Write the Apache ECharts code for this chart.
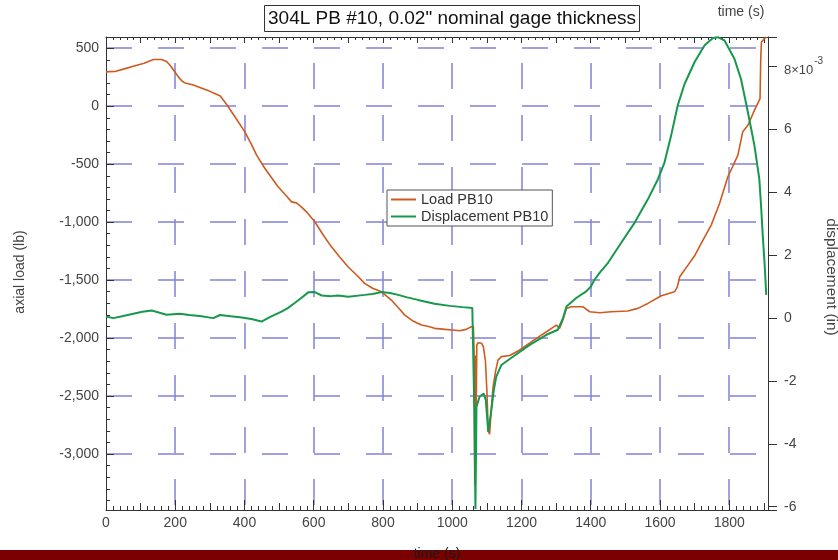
<!DOCTYPE html>
<html>
<head>
<meta charset="utf-8">
<script src="https://cdn.jsdelivr.net/npm/echarts@6/dist/echarts.min.js"></script>
<style>
  html, body { margin: 0; padding: 0; background: #ffffff; }
  #chart { width: 838px; height: 560px; }
</style>
</head>
<body>
<div id="chart"></div>
<script>
// Load cell channel, PB10: time (s) and axial load (lb)
const loadTime = [0, 10, 26, 50, 79, 110, 137, 160, 175, 185, 198, 209, 220, 228, 250, 271, 300, 319, 330, 348,
  370, 401, 420, 435, 459, 473, 497, 520, 536, 550, 565, 579, 603, 625, 651, 675, 699, 725, 747, 770,
  796, 824, 845, 863, 885, 911, 935, 949, 980, 1000, 1022, 1040, 1055, 1061, 1063, 1065, 1067, 1069, 1071, 1075,
  1080, 1085, 1090, 1096, 1100, 1104, 1108, 1113, 1118, 1125, 1132, 1142, 1166, 1195, 1220, 1243, 1270, 1290, 1301, 1310,
  1320, 1330, 1344, 1378, 1397, 1426, 1459, 1507, 1536, 1565, 1604, 1642, 1650, 1657, 1681, 1700, 1719, 1748, 1772, 1796,
  1810, 1825, 1839, 1854, 1873, 1889, 1891, 1893, 1902, 1907];
const loadLb = [296, 298, 300, 320, 345, 370, 403, 403, 385, 353, 300, 253, 215, 201, 185, 161, 128, 103, 88, 17,
  -80, -221, -330, -422, -537, -595, -695, -770, -825, -834, -870, -911, -997, -1100, -1213, -1300, -1385, -1460, -1528, -1570,
  -1601, -1672, -1740, -1802, -1850, -1888, -1902, -1916, -1925, -1930, -1937, -1925, -1902, -1900, -2103, -3267, -2150, -2700, -2060, -2040,
  -2035, -2045, -2075, -2200, -2450, -2800, -2830, -2600, -2420, -2290, -2190, -2160, -2150, -2103, -2050, -2003, -1950, -1910, -1888, -1916,
  -1840, -1744, -1730, -1730, -1773, -1782, -1773, -1767, -1744, -1701, -1635, -1601, -1560, -1471, -1371, -1290, -1184, -1026, -839, -609,
  -520, -422, -221, -164, -34, 66, 400, 554, 583, 597];

// Displacement channel, PB10: time (s) and displacement (10^-3 in)
const dispTime = [0, 21, 50, 79, 105, 132, 155, 175, 214, 240, 271, 310, 329, 360, 387, 420, 449, 473, 490, 507,
  525, 545, 565, 584, 603, 623, 650, 670, 700, 747, 770, 796, 820, 844, 870, 901, 949, 993, 1030, 1058,
  1061, 1064, 1067, 1070, 1079, 1091, 1097, 1104, 1113, 1120, 1127, 1142, 1175, 1224, 1272, 1305, 1310, 1320, 1330, 1358,
  1387, 1400, 1411, 1426, 1450, 1488, 1527, 1565, 1594, 1613, 1632, 1651, 1671, 1700, 1729, 1753, 1767, 1786, 1815, 1834,
  1854, 1873, 1887, 1892, 1897, 1902, 1907];
const dispMilliIn = [0.05, 0.00, 0.07, 0.14, 0.20, 0.24, 0.17, 0.11, 0.14, 0.10, 0.07, 0.00, 0.10, 0.06, 0.03, -0.03, -0.11, 0.03, 0.12, 0.21,
  0.32, 0.48, 0.65, 0.82, 0.83, 0.72, 0.70, 0.72, 0.68, 0.74, 0.77, 0.83, 0.80, 0.74, 0.66, 0.58, 0.46, 0.39, 0.35, 0.32,
  0.30, -3.0, -6.07, -2.82, -2.50, -2.40, -2.61, -3.62, -2.93, -2.30, -1.87, -1.49, -1.23, -0.85, -0.53, -0.37, -0.43, 0.00, 0.37, 0.64,
  0.85, 1.00, 1.22, 1.45, 1.76, 2.40, 3.04, 3.78, 4.42, 4.95, 5.80, 6.76, 7.45, 8.15, 8.68, 8.91, 8.94, 8.84, 8.25, 7.61,
  6.55, 5.48, 4.42, 3.57, 2.61, 1.76, 0.74];

const seriesNames = ['Load PB10', 'Displacement PB10'];
const titleText = '304L PB #10, 0.02" nominal gage thickness';

// Axis extents
const timeRange = [0, 1912];
const loadRange = [-3483, 597];
const dispRange = [-6.105, 8.945];

const AXIS = '#333333';
const LABEL = '#444444';
const GRID = '#8383d8';
const ORANGE = '#cf5a1e';
const GREEN = '#17984c';
const FONT = '"Liberation Sans", Arial, sans-serif';
const TICK_FONT = 14;

function withCommas(v) {
  const s = Math.abs(v).toString().replace(/\B(?=(\d{3})+(?!\d))/g, ',');
  return (v < 0 ? '-' : '') + s;
}

const centered = { align: 'center', verticalAlign: 'middle', textAlign: 'center', textVerticalAlign: 'middle' };

const chart = echarts.init(document.getElementById('chart'), null, { renderer: 'canvas' });

chart.setOption({
  animation: false,
  backgroundColor: '#ffffff',
  textStyle: { fontFamily: FONT },
  grid: { left: 106, right: 70, top: 37, bottom: 50, containLabel: false },
  legend: {
    data: seriesNames,
    orient: 'vertical',
    left: 387,
    top: 190,
    backgroundColor: '#ffffff',
    borderColor: '#555555',
    borderWidth: 1,
    borderRadius: 0,
    padding: [2, 4, 2, 4],
    itemGap: 2,
    itemWidth: 25,
    itemHeight: 2,
    icon: 'rect',
    textStyle: { fontFamily: FONT, fontSize: 14.5, color: '#333333', lineHeight: 15 }
  },
  xAxis: [
    {
      type: 'value', position: 'bottom', min: timeRange[0], max: timeRange[1], interval: 200,
      axisLine: { show: true, onZero: false, lineStyle: { color: AXIS, width: 1 } },
      axisTick: { show: true, inside: true, length: 10, lineStyle: { color: AXIS } },
      minorTick: { show: true, splitNumber: 10, length: 4, lineStyle: { color: AXIS } },
      axisLabel: {
        margin: 6, fontSize: TICK_FONT, color: LABEL, fontFamily: FONT,
        formatter: v => (v % 200 === 0 ? String(v) : '')
      },
      splitLine: {
        show: true, showMinLine: false, showMaxLine: false,
        lineStyle: { color: GRID, width: 1.5, type: [26, 26], dashOffset: 26 }
      }
    },
    {
      type: 'value', position: 'top', min: timeRange[0], max: timeRange[1], interval: 100,
      axisLine: { show: true, onZero: false, lineStyle: { color: AXIS, width: 1 } },
      axisTick: { show: true, inside: true, length: 6, lineStyle: { color: AXIS } },
      minorTick: { show: true, splitNumber: 5, length: 3, lineStyle: { color: AXIS } },
      axisLabel: { show: false },
      splitLine: { show: false }
    },
    {
      type: 'value', position: 'bottom', min: timeRange[0], max: timeRange[1], interval: 100,
      axisLine: { show: false, onZero: false },
      axisTick: { show: true, inside: true, length: 7, lineStyle: { color: AXIS } },
      axisLabel: { show: false },
      splitLine: { show: false }
    }
  ],
  yAxis: [
    {
      type: 'value', position: 'left', min: loadRange[0], max: loadRange[1], splitNumber: 8,
      axisLine: { show: true, onZero: false, lineStyle: { color: AXIS, width: 1 } },
      axisTick: { show: true, inside: true, length: 8, lineStyle: { color: AXIS } },
      minorTick: { show: true, splitNumber: 5, length: 4, lineStyle: { color: AXIS } },
      axisLabel: {
        margin: 7, fontSize: TICK_FONT, color: LABEL, fontFamily: FONT,
        formatter: v => (v % 500 === 0 ? withCommas(v) : '')
      },
      splitLine: {
        show: true, showMinLine: false, showMaxLine: false,
        lineStyle: { color: GRID, width: 1.5, type: [26, 26], dashOffset: 0 }
      }
    },
    {
      type: 'value', position: 'right', min: dispRange[0], max: dispRange[1], splitNumber: 7,
      axisLine: { show: true, onZero: false, lineStyle: { color: AXIS, width: 1 } },
      axisTick: { show: true, inside: false, length: 9, lineStyle: { color: AXIS } },
      axisLabel: {
        margin: 16, fontSize: TICK_FONT, color: LABEL, fontFamily: FONT,
        formatter: v => {
          if (Math.abs(v - Math.round(v)) > 1e-6 || Math.round(v) % 2 !== 0) return '';
          if (Math.round(v) === 8) return '{m|8×10}{e|-3}';
          return String(Math.round(v));
        },
        rich: {
          m: { fontSize: 13, color: LABEL, fontFamily: FONT, lineHeight: 20, verticalAlign: 'bottom' },
          e: { fontSize: 10, color: LABEL, fontFamily: FONT, lineHeight: 20, verticalAlign: 'top', padding: [0, 0, 8, 1] }
        }
      },
      splitLine: { show: false }
    }
  ],
  series: [
    {
      name: seriesNames[0], type: 'line', xAxisIndex: 0, yAxisIndex: 0,
      data: loadTime.map((t, i) => [t, loadLb[i]]),
      showSymbol: false, symbol: 'none', clip: true, z: 3,
      itemStyle: { color: ORANGE },
      lineStyle: { color: ORANGE, width: 1.6 }
    },
    {
      name: seriesNames[1], type: 'line', xAxisIndex: 0, yAxisIndex: 1,
      data: dispTime.map((t, i) => [t, dispMilliIn[i]]),
      showSymbol: false, symbol: 'none', clip: true, z: 4,
      itemStyle: { color: GREEN },
      lineStyle: { color: GREEN, width: 2 }
    }
  ],
  graphic: [
    {
      type: 'group', left: 264, top: 5, z: 10,
      children: [
        { type: 'rect', shape: { x: 0, y: 0, width: 375, height: 26 },
          style: { fill: '#ffffff', stroke: '#333333', lineWidth: 1 } },
        { type: 'text', x: 187.5, y: 13.5,
          style: Object.assign({ text: titleText, font: '19px ' + FONT, fill: '#111111' }, centered) }
      ]
    },
    { type: 'text', x: 741, y: 12, z: 10,
      style: Object.assign({ text: 'time (s)', font: '14px ' + FONT, fill: LABEL }, centered) },
    { type: 'text', x: 20, y: 272, rotation: Math.PI / 2, z: 10,
      style: Object.assign({ text: 'axial load (lb)', font: '14px ' + FONT, fill: LABEL }, centered) },
    { type: 'text', x: 831, y: 277, rotation: -Math.PI / 2, scaleX: 1.1, z: 10,
      style: Object.assign({ text: 'displacement (in)', font: '14px ' + FONT, fill: LABEL }, centered) },
    { type: 'rect', left: 0, top: 550, z: 9, shape: { x: 0, y: 0, width: 838, height: 10 },
      style: { fill: '#7b0000' } },
    { type: 'text', x: 437, y: 554, z: 11,
      style: Object.assign({ text: 'time (s)', font: '14px ' + FONT, fill: '#1a1a1a' }, centered) }
  ]
});
</script>
</body>
</html>
